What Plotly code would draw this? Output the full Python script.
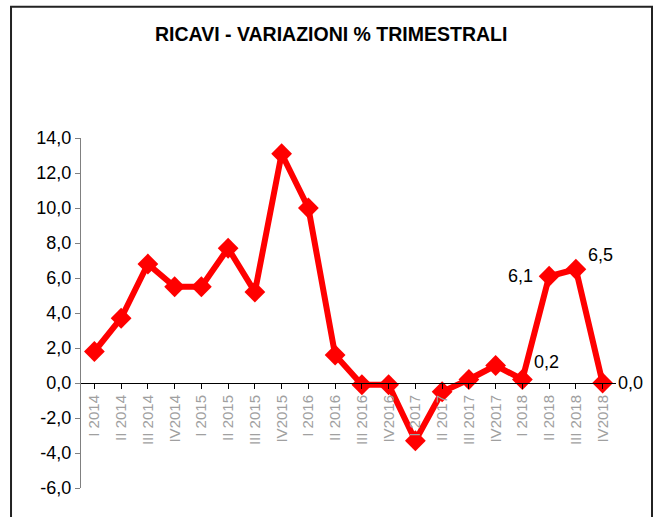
import plotly.graph_objects as go

# Quarterly revenue change, %
quarters = ["I 2014", "II 2014", "III 2014", "IV2014",
            "I 2015", "II 2015", "III 2015", "IV2015",
            "I 2016", "II 2016", "III 2016", "IV2016",
            "I 2017", "II 2017", "III 2017", "IV2017",
            "I 2018", "II 2018", "III 2018", "IV2018"]
variazioni = [1.8, 3.7, 6.8, 5.5,
              5.5, 7.7, 5.2, 13.1,
              10.0, 1.6, -0.1, -0.1,
              -3.3, -0.5, 0.2, 1.0,
              0.2, 6.1, 6.5, 0.0]

# Value axis ticks
y_ticks = [-6, -4, -2, 0, 2, 4, 6, 8, 10, 12, 14]
y_tick_labels = ["-6,0", "-4,0", "-2,0", "0,0", "2,0", "4,0",
                 "6,0", "8,0", "10,0", "12,0", "14,0"]

# Data labels shown for the last four quarters: (index, xanchor, yanchor, xshift, yshift)
labelled = [(16, "left", "bottom", 10, 6),
            (17, "right", "middle", -14, 0),
            (18, "left", "bottom", 10, 2),
            (19, "left", "middle", 13, 0)]

FONT = "Arial, Liberation Sans, sans-serif"
RED = "#FF0000"

fig = go.Figure()
fig.add_trace(go.Scatter(
    x=list(range(len(quarters))),
    y=variazioni,
    mode="lines+markers",
    line=dict(color=RED, width=6),
    marker=dict(symbol="diamond", size=16, color=RED),
    hoverinfo="skip",
    showlegend=False,
))

annotations = [
    dict(text="<b>RICAVI - VARIAZIONI % TRIMESTRALI</b>",
         xref="paper", yref="paper", x=0.4682, y=1.2985,
         xanchor="center", yanchor="middle", showarrow=False,
         font=dict(family=FONT, size=19.5, color="#000000")),
]
for i, xa, ya, dx, dy in labelled:
    annotations.append(dict(
        text=f"{variazioni[i]:.1f}".replace(".", ","),
        x=i, y=variazioni[i], xref="x", yref="y",
        xanchor=xa, yanchor=ya, xshift=dx, yshift=dy,
        showarrow=False,
        font=dict(family=FONT, size=18, color="#000000"),
    ))

fig.update_layout(
    width=657, height=517,
    margin=dict(l=81, r=41, t=138, b=29, pad=0),
    paper_bgcolor="white",
    plot_bgcolor="white",
    annotations=annotations,
    shapes=[dict(type="rect", xref="paper", yref="paper",
                 x0=-0.1308, x1=1.0673, y0=-0.3, y1=1.375,
                 line=dict(color="#222222", width=2),
                 fillcolor="rgba(0,0,0,0)", layer="below")],
    xaxis=dict(
        range=[-0.5, len(quarters) - 0.5],
        tickmode="array",
        tickvals=list(range(len(quarters))),
        ticktext=quarters,
        tickangle=-90,
        tickson="boundaries",
        ticks="outside", ticklen=5, tickcolor="#000000",
        showline=True, linecolor="#000000", linewidth=1,
        showgrid=False, zeroline=False,
        anchor="free", position=0.3,
        tickfont=dict(family=FONT, size=15, color="#A0A0A0"),
    ),
    yaxis=dict(
        range=[-6, 14],
        tickmode="array",
        tickvals=y_ticks,
        ticktext=y_tick_labels,
        ticks="outside", ticklen=5, tickcolor="#808080",
        showline=True, linecolor="#808080", linewidth=1,
        showgrid=False, zeroline=False,
        tickfont=dict(family=FONT, size=18, color="#000000"),
    ),
)

fig.write_html("out.html")
